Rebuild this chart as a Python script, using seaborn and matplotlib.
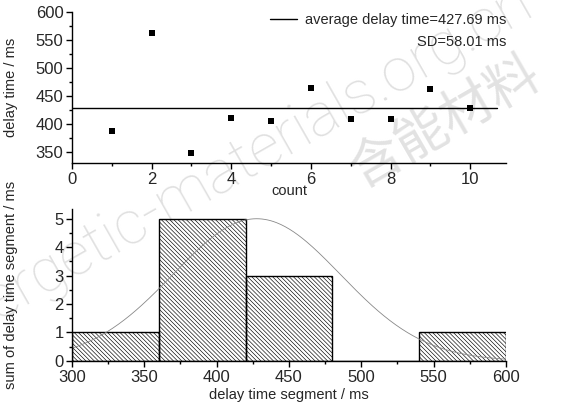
import numpy as np
import pandas as pd
import matplotlib
matplotlib.use('Agg')
import matplotlib.pyplot as plt
import seaborn as sns
from matplotlib.lines import Line2D
from matplotlib.ticker import MultipleLocator

# top panel: delay time of each test
counts = [1, 2, 3, 4, 5, 6, 7, 8, 9, 10]
delay_times = [387, 562, 348, 410, 405, 464, 409, 409, 463, 429]
mean_delay = 427.69
sd_delay = 58.01

# bottom panel: histogram of delay time segments
bin_edges = [300, 360, 420, 480, 540, 600]
seg_centers = [330, 390, 450, 510, 570]
seg_counts = [1, 5, 3, 0, 1]
curve_peak = 5.0

sns.set_theme(style='ticks')
plt.rcParams['font.family'] = ['Liberation Sans', 'DejaVu Sans']
plt.rcParams['axes.linewidth'] = 1.0
plt.rcParams['hatch.linewidth'] = 0.45
plt.rcParams['hatch.color'] = '#6a6a6a'

fig = plt.figure(figsize=(5.66, 4.11), dpi=100)
ax1 = fig.add_axes([0.127, 0.603, 0.767, 0.368])
ax2 = fig.add_axes([0.127, 0.122, 0.767, 0.370])
for ax in (ax1, ax2):
    ax.patch.set_alpha(0)

df = pd.DataFrame({'count': counts, 'delay': delay_times})
sns.scatterplot(data=df, x='count', y='delay', ax=ax1, marker='s', s=24,
                color='black', edgecolor='black', linewidth=0, zorder=3)
ax1.axhline(mean_delay, xmin=0, xmax=0.98, color='black', lw=1.0, zorder=2)
ax1.set_xlim(0, 10.9)
ax1.set_ylim(330, 600)
ax1.xaxis.set_major_locator(MultipleLocator(2))
ax1.xaxis.set_minor_locator(MultipleLocator(1))
ax1.yaxis.set_major_locator(MultipleLocator(50))
ax1.yaxis.set_minor_locator(MultipleLocator(25))
ax1.set_xlabel('count', fontsize=10.5, labelpad=-2)
ax1.set_ylabel('delay time / ms', fontsize=10.5)

handle = Line2D([], [], color='black', lw=1.0)
ax1.legend([handle], [f'average delay time={mean_delay} ms'], loc='center right',
           frameon=False, fontsize=10.5, handlelength=1.9, handletextpad=0.5,
           borderpad=0.0, borderaxespad=0.0, bbox_to_anchor=(1.0, 0.947))
ax1.text(1.0, 0.80, f'SD={sd_delay} ms', transform=ax1.transAxes,
         ha='right', va='center', fontsize=10.5)

sns.histplot(x=seg_centers, weights=seg_counts, bins=bin_edges, ax=ax2,
             color='white', edgecolor='black', linewidth=1.0, alpha=1.0)
for p in ax2.patches:
    p.set_facecolor('none')
    p.set_hatch('\\\\\\\\\\\\\\\\')

# fitted normal curve from the stated mean and SD
xs = np.linspace(300, 600, 300)
ys = curve_peak * np.exp(-(xs - mean_delay) ** 2 / (2 * sd_delay ** 2))
sns.lineplot(x=xs, y=ys, ax=ax2, color='#888888', lw=0.6)

ax2.set_xlim(300, 600)
ax2.set_ylim(0, 5.35)
ax2.xaxis.set_major_locator(MultipleLocator(50))
ax2.xaxis.set_minor_locator(MultipleLocator(25))
ax2.yaxis.set_major_locator(MultipleLocator(1))
ax2.yaxis.set_minor_locator(MultipleLocator(0.5))
ax2.set_xlabel('delay time segment / ms', fontsize=10.5, labelpad=2)
ax2.set_ylabel('sum of delay time segment / ms', fontsize=10.5)

for ax in (ax1, ax2):
    sns.despine(ax=ax)
    ax.tick_params(which='major', direction='out', length=4, width=1.0,
                   labelsize=12, color='black')
    ax.tick_params(axis='x', which='major', pad=2.5)
    ax.tick_params(axis='y', which='major', pad=2)
    ax.tick_params(which='minor', direction='out', length=2, width=1.0, color='black')
    for s in ('left', 'bottom'):
        ax.spines[s].set_color('black')

ax1.yaxis.set_label_coords(-0.125, 0.5)
ax2.yaxis.set_label_coords(-0.125, 0.5)

# faint watermark behind the axes
fig.text(0.406, 0.591, 'energetic-materials.org.cn', fontsize=44, color='#e0e0e0',
         rotation=29.7, ha='center', va='center', zorder=-1, fontweight='light',
         family=['Roboto', 'Liberation Sans', 'DejaVu Sans'])
fig.text(0.786, 0.703, '含能材料', fontsize=38, color='#e2e2e2', rotation=30,
         ha='center', va='center', zorder=-1, fontweight='light',
         family=['Noto Sans CJK SC', 'DejaVu Sans'])

fig.savefig('out.png', dpi=100)
